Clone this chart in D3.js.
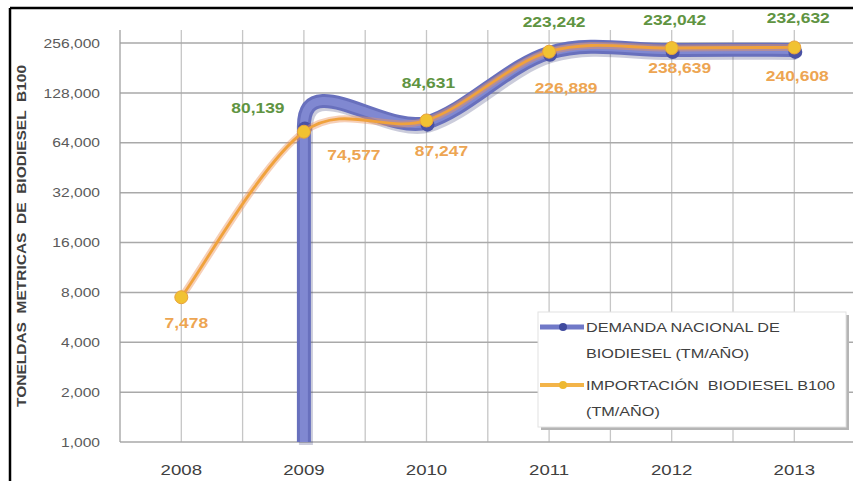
<!DOCTYPE html>
<html>
<head>
<meta charset="utf-8">
<script src="https://cdn.jsdelivr.net/npm/d3@7"></script>
<style>
  html, body { margin: 0; padding: 0; background: #fff; }
  svg { display: block; font-family: "Liberation Sans", Arial, sans-serif; }
  text { white-space: pre; }
</style>
</head>
<body>
<div id="chart"></div>
<script>
const years = ["2008", "2009", "2010", "2011", "2012", "2013"];
// 0 = no national demand in 2008 (a zero cannot sit on the log axis)
const demanda = [0, 80139, 84631, 223242, 232042, 232632];
const importacion = [7478, 74577, 87247, 226889, 238639, 240608];
const yTicks = [1000, 2000, 4000, 8000, 16000, 32000, 64000, 128000, 256000];
const legendDemanda = ["DEMANDA NACIONAL DE", "BIODIESEL (TM/AÑO)"];
const legendImport = ["IMPORTACIÓN  BIODIESEL B100", "(TM/AÑO)"];
const yTitle = "TONELDAS  METRICAS  DE  BIODIESEL  B100";

// labels were dragged by hand in the original, keep their offsets (px)
const demandaLabelShift = [null, [-46, -19], [2, -40], [5, -31], [3, -30], [4, -32]];
const importLabelShift = [[5, 26], [50, 23], [15, 30], [17, 36], [8, 20], [3, 28]];

const width = 853, height = 481;
const plotLeft = 120, plotTop = 30, plotBottom = 442, band = 122.6;
const stretchX = 1.2; // source picture is horizontally stretched

const svg = d3.select("#chart").append("svg")
    .attr("width", width)
    .attr("height", height);

const x = d3.scaleBand()
    .domain(years)
    .range([plotLeft, plotLeft + band * years.length]);
const cx = d => x(d) + x.bandwidth() / 2;

const y = d3.scaleLog().base(2)
    .domain([1000, 256000])
    .range([plotBottom, 43]);

function stretch(sel, f) {
    sel.each(function () {
        const w = this.getComputedTextLength();
        d3.select(this).attr("textLength", w * f).attr("lengthAdjust", "spacingAndGlyphs");
    });
}

// Excel-like smoothed line (Catmull-Rom). After a zero value the line
// drops straight out of the bottom of the log axis.
function smoothPath(pts) {
    const p = d3.path();
    const k = 1 / 6;
    let started = false;
    pts.forEach((pt, i) => {
        if (pt.y == null) { started = false; return; }
        const prev = pts[i - 1], next = pts[i + 1];
        if (!started) {
            if (prev && prev.y == null) { p.moveTo(pt.x, plotBottom); p.lineTo(pt.x, pt.y); }
            else p.moveTo(pt.x, pt.y);
            started = true;
        }
        if (!next || next.y == null) return;
        const after = pts[i + 2] && pts[i + 2].y != null ? pts[i + 2] : null;
        let c1x, c1y;
        if (prev && prev.y != null) {
            c1x = pt.x + k * (next.x - prev.x);
            c1y = pt.y + k * (next.y - prev.y);
        } else if (prev) {
            c1x = pt.x;
            c1y = pt.y - (next.x - pt.x) / 2;
        } else {
            c1x = pt.x + k * (next.x - pt.x);
            c1y = pt.y + k * (next.y - pt.y);
        }
        let c2x = next.x - k * (next.x - pt.x), c2y = next.y - k * (next.y - pt.y);
        if (after) {
            c2x = next.x - k * (after.x - pt.x);
            c2y = next.y - k * (after.y - pt.y);
        }
        p.bezierCurveTo(c1x, c1y, c2x, c2y, next.x, next.y);
    });
    return p.toString();
}

// frame (only top and left edges survive in the source)
svg.append("line").attr("x1", 10).attr("y1", 8).attr("x2", width).attr("y2", 8)
    .attr("stroke", "#000").attr("stroke-width", 2.5);
svg.append("line").attr("x1", 10).attr("y1", 8).attr("x2", 10).attr("y2", height)
    .attr("stroke", "#000").attr("stroke-width", 2.5);

// grid
const grid = svg.append("g");
const vx = [];
years.forEach(yr => { vx.push(x(yr) + x.bandwidth() / 2); vx.push(x(yr) + x.bandwidth()); });
grid.selectAll("line.v").data(vx).enter().append("line")
    .attr("x1", d => d).attr("x2", d => d)
    .attr("y1", plotTop).attr("y2", plotBottom)
    .attr("stroke", "#c6c6c6").attr("stroke-width", 1.3);
grid.selectAll("line.h").data(yTicks).enter().append("line")
    .attr("x1", plotLeft).attr("x2", x.range()[1])
    .attr("y1", d => y(d)).attr("y2", d => y(d))
    .attr("stroke", "#a9a9a9").attr("stroke-width", 1.5);

// y axis
const yAxis = svg.append("g")
    .attr("transform", `translate(${plotLeft},0)`)
    .call(d3.axisLeft(y).tickValues(yTicks).tickFormat(d3.format(",")).tickSize(0).tickPadding(20));
yAxis.select(".domain").attr("d", `M0,${plotTop}V${plotBottom}`).attr("stroke", "#a0a0a0").attr("stroke-width", 1.3);
yAxis.selectAll("text").attr("font-size", 13).attr("fill", "#5a5a5a").attr("font-family", null);
stretch(yAxis.selectAll("text"), stretchX);

// x axis
const xAxis = svg.append("g")
    .attr("transform", `translate(0,${plotBottom})`)
    .call(d3.axisBottom(x).tickSize(0).tickPadding(22));
xAxis.select(".domain").remove();
xAxis.selectAll("text").attr("font-size", 15.5).attr("fill", "#404040").attr("font-family", null);
stretch(xAxis.selectAll("text"), stretchX);

// y title
svg.append("text")
    .attr("transform", "translate(26,236) rotate(-90)")
    .attr("text-anchor", "middle")
    .attr("font-size", 12)
    .attr("font-weight", "bold")
    .attr("fill", "#404040")
    .attr("textLength", 342)
    .attr("lengthAdjust", "spacingAndGlyphs")
    .text(yTitle);

// series
const demPts = years.map((yr, i) => ({ x: cx(yr), y: demanda[i] > 0 ? y(demanda[i]) : null, v: demanda[i], i }));
const impPts = years.map((yr, i) => ({ x: cx(yr), y: y(importacion[i]), v: importacion[i], i }));

const series = svg.append("g");
series.append("path")
    .attr("d", smoothPath(demPts))
    .attr("transform", "translate(2,3)")
    .attr("fill", "none").attr("stroke", "#2e3470").attr("stroke-opacity", 0.25)
    .attr("stroke-width", 14).attr("stroke-linejoin", "round");
series.append("path")
    .attr("d", smoothPath(demPts))
    .attr("fill", "none").attr("stroke", "#6870bd")
    .attr("stroke-width", 14).attr("stroke-linejoin", "round");
series.append("path")
    .attr("d", smoothPath(demPts))
    .attr("fill", "none").attr("stroke", "#8088d1")
    .attr("stroke-width", 8).attr("stroke-linejoin", "round");
series.selectAll("circle.dem").data(demPts.filter(d => d.y != null)).enter().append("circle")
    .attr("cx", d => d.x + 1).attr("cy", d => d.y + 2).attr("r", 7)
    .attr("fill", "#4a52a4");

series.append("path")
    .attr("d", smoothPath(impPts))
    .attr("fill", "none").attr("stroke", "#ec9460").attr("stroke-opacity", 0.45)
    .attr("stroke-width", 7).attr("stroke-linejoin", "round");
series.append("path")
    .attr("d", smoothPath(impPts))
    .attr("fill", "none").attr("stroke", "#f0a23c")
    .attr("stroke-width", 2.8).attr("stroke-linejoin", "round");
series.selectAll("circle.imp").data(impPts).enter().append("circle")
    .attr("cx", d => d.x).attr("cy", d => d.y).attr("r", 6.5)
    .attr("fill", "#f1c232").attr("stroke", "#e9a23a").attr("stroke-width", 1);

// data labels
const fmt = d3.format(",");
const demLabels = svg.append("g").selectAll("text")
    .data(demPts.filter(d => d.y != null)).enter().append("text")
    .attr("x", d => d.x + demandaLabelShift[d.i][0])
    .attr("y", d => d.y + demandaLabelShift[d.i][1])
    .attr("dy", "0.35em")
    .attr("text-anchor", "middle")
    .attr("font-size", 14.5).attr("font-weight", "bold")
    .attr("fill", "#5f9442")
    .text(d => fmt(d.v));
stretch(demLabels, stretchX);

const impLabels = svg.append("g").selectAll("text")
    .data(impPts).enter().append("text")
    .attr("x", d => d.x + importLabelShift[d.i][0])
    .attr("y", d => d.y + importLabelShift[d.i][1])
    .attr("dy", "0.35em")
    .attr("text-anchor", "middle")
    .attr("font-size", 14.5).attr("font-weight", "bold")
    .attr("fill", "#eda552")
    .text(d => fmt(d.v));
stretch(impLabels, stretchX);

// legend
const lg = svg.append("g").attr("transform", "translate(538,312)");
lg.append("rect").attr("x", 3).attr("y", 3).attr("width", 308).attr("height", 115).attr("fill", "#b5b5b5");
lg.append("rect").attr("width", 308).attr("height", 115).attr("fill", "#fff").attr("stroke", "#e2e2e2");

const legendRows = [
    { lines: legendDemanda, y: 15, line: "#7079c8", lw: 5, dot: "#3f4a9e" },
    { lines: legendImport, y: 73, line: "#f3b449", lw: 4, dot: "#eeb830" }
];
legendRows.forEach(r => {
    lg.append("line").attr("x1", 2).attr("x2", 46).attr("y1", r.y).attr("y2", r.y)
        .attr("stroke", r.line).attr("stroke-width", r.lw);
    lg.append("circle").attr("cx", 25).attr("cy", r.y).attr("r", 4).attr("fill", r.dot);
    const t = lg.selectAll(null).data(r.lines).enter().append("text")
        .attr("x", 48)
        .attr("y", (d, i) => r.y + i * 26)
        .attr("dy", "0.35em")
        .attr("font-size", 13.5)
        .attr("fill", "#404040")
        .text(d => d);
    stretch(t, stretchX);
});
</script>
</body>
</html>
